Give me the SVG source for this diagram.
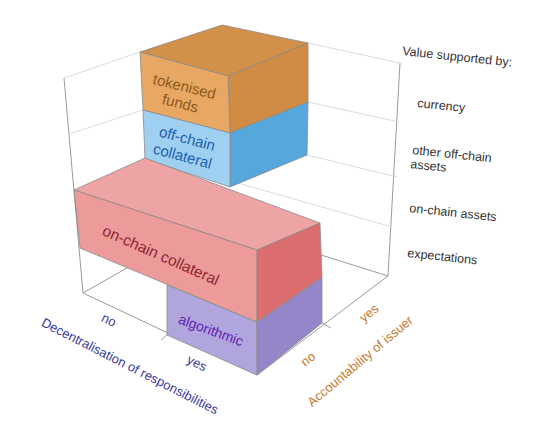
<svg xmlns="http://www.w3.org/2000/svg" width="543" height="432" viewBox="0 0 543 432">
<style>
text{font-family:"Liberation Sans",Arial,sans-serif}
.axis{stroke:#9a9a9a;stroke-width:1;fill:none}
.grid{stroke:#dcdcdc;stroke-width:1;fill:none}
.edge{stroke:#8a8a8a;stroke-width:0.8;stroke-linejoin:round}
.rl{font-size:12.5px;fill:#333}
.dec{font-size:13px;fill:#3c3a9c}
.acc{font-size:13px;fill:#c47a2c}
.bl{text-anchor:middle;dominant-baseline:central}
</style>
<rect width="543" height="432" fill="#fff"/>
<g id="connectors">
<line class="axis" x1="64" y1="78" x2="83" y2="293"/>
<line class="axis" x1="400" y1="63" x2="388" y2="276"/>
<line class="grid" x1="64" y1="78" x2="140" y2="52"/>
<line class="grid" x1="69" y1="134" x2="143" y2="110"/>
<line class="grid" x1="308" y1="43" x2="400" y2="63"/>
<line class="grid" x1="308" y1="102" x2="399" y2="122"/>
<line class="grid" x1="307" y1="155" x2="397" y2="177"/>
<line class="grid" x1="238" y1="183" x2="392" y2="227"/>
<line class="axis" x1="83" y1="293" x2="150" y2="255"/>
<line class="axis" x1="83" y1="293" x2="257" y2="375"/>
<line class="axis" x1="257" y1="375" x2="388" y2="276"/>
<line class="axis" x1="388" y1="276" x2="318" y2="254"/>
<line class="axis" x1="167" y1="335" x2="161" y2="340"/>
<line class="axis" x1="322" y1="323" x2="331" y2="328"/>
</g>
<g id="tokenised-funds">
<polygon class="edge" points="140,52 222,25 308,43 228,76" fill="#d39049"/>
<polygon class="edge" points="228,76 308,43 308,102 230,133" fill="#d08b45"/>
<polygon class="edge" points="140,52 228,76 230,133 143,110" fill="#e8a864"/>
<g transform="translate(182.5,94.5) rotate(14)" fill="#8e5a1e" font-size="15">
<text class="bl" x="0" y="-8.7">tokenised</text>
<text class="bl" x="0" y="8.7">funds</text>
</g>
</g>
<g id="off-chain-collateral">
<polygon class="edge" points="230,133 308,102 307,155 230,187" fill="#56a8dc"/>
<polygon class="edge" points="143,110 230,133 230,187 145,159" fill="#9fd0f2"/>
<g transform="translate(185,147) rotate(15)" fill="#1d5fae" font-size="15">
<text class="bl" x="0" y="-9">off-chain</text>
<text class="bl" x="0" y="9">collateral</text>
</g>
</g>
<g id="algorithmic">
<polygon class="edge" points="167,285 257,322 257,375 167,335" fill="#b1a5de"/>
<polygon class="edge" points="257,322 322,277 322,323 257,375" fill="#9586c9"/>
<text class="bl" transform="translate(211,330) rotate(20)" fill="#6222b0" font-size="14">algorithmic</text>
</g>
<g id="on-chain-collateral">
<polygon class="edge" points="74,190 145,158 320,223 257,250" fill="#eea3a4"/>
<polygon class="edge" points="74,190 257,250 257,322 80,248" fill="#ed9a9b"/>
<polygon class="edge" points="257,250 320,223 322,277 257,322" fill="#dc6d6f"/>
<text class="bl" transform="translate(161,255) rotate(24)" fill="#8e2630" font-size="15.5">on-chain collateral</text>
</g>
<g id="labels">
<text class="rl" transform="translate(402,55) rotate(6)">Value supported by:</text>
<text class="rl" transform="translate(417,107) rotate(6)">currency</text>
<text class="rl" transform="translate(412,154) rotate(6)">other off-chain</text>
<text class="rl" transform="translate(410,168) rotate(6)">assets</text>
<text class="rl" transform="translate(409,212) rotate(6)">on-chain assets</text>
<text class="rl" transform="translate(407,257) rotate(6)">expectations</text>
<text class="dec bl" transform="translate(109,320) rotate(26)">no</text>
<text class="dec bl" transform="translate(197,363) rotate(26)">yes</text>
<text class="dec bl" transform="translate(130,366) rotate(27)">Decentralisation of responsibilities</text>
<text class="acc bl" transform="translate(308,359) rotate(-38)">no</text>
<text class="acc bl" transform="translate(369,313) rotate(-38)">yes</text>
<text class="acc bl" transform="translate(360,361) rotate(-40)">Accountability of issuer</text>
</g>
</svg>
